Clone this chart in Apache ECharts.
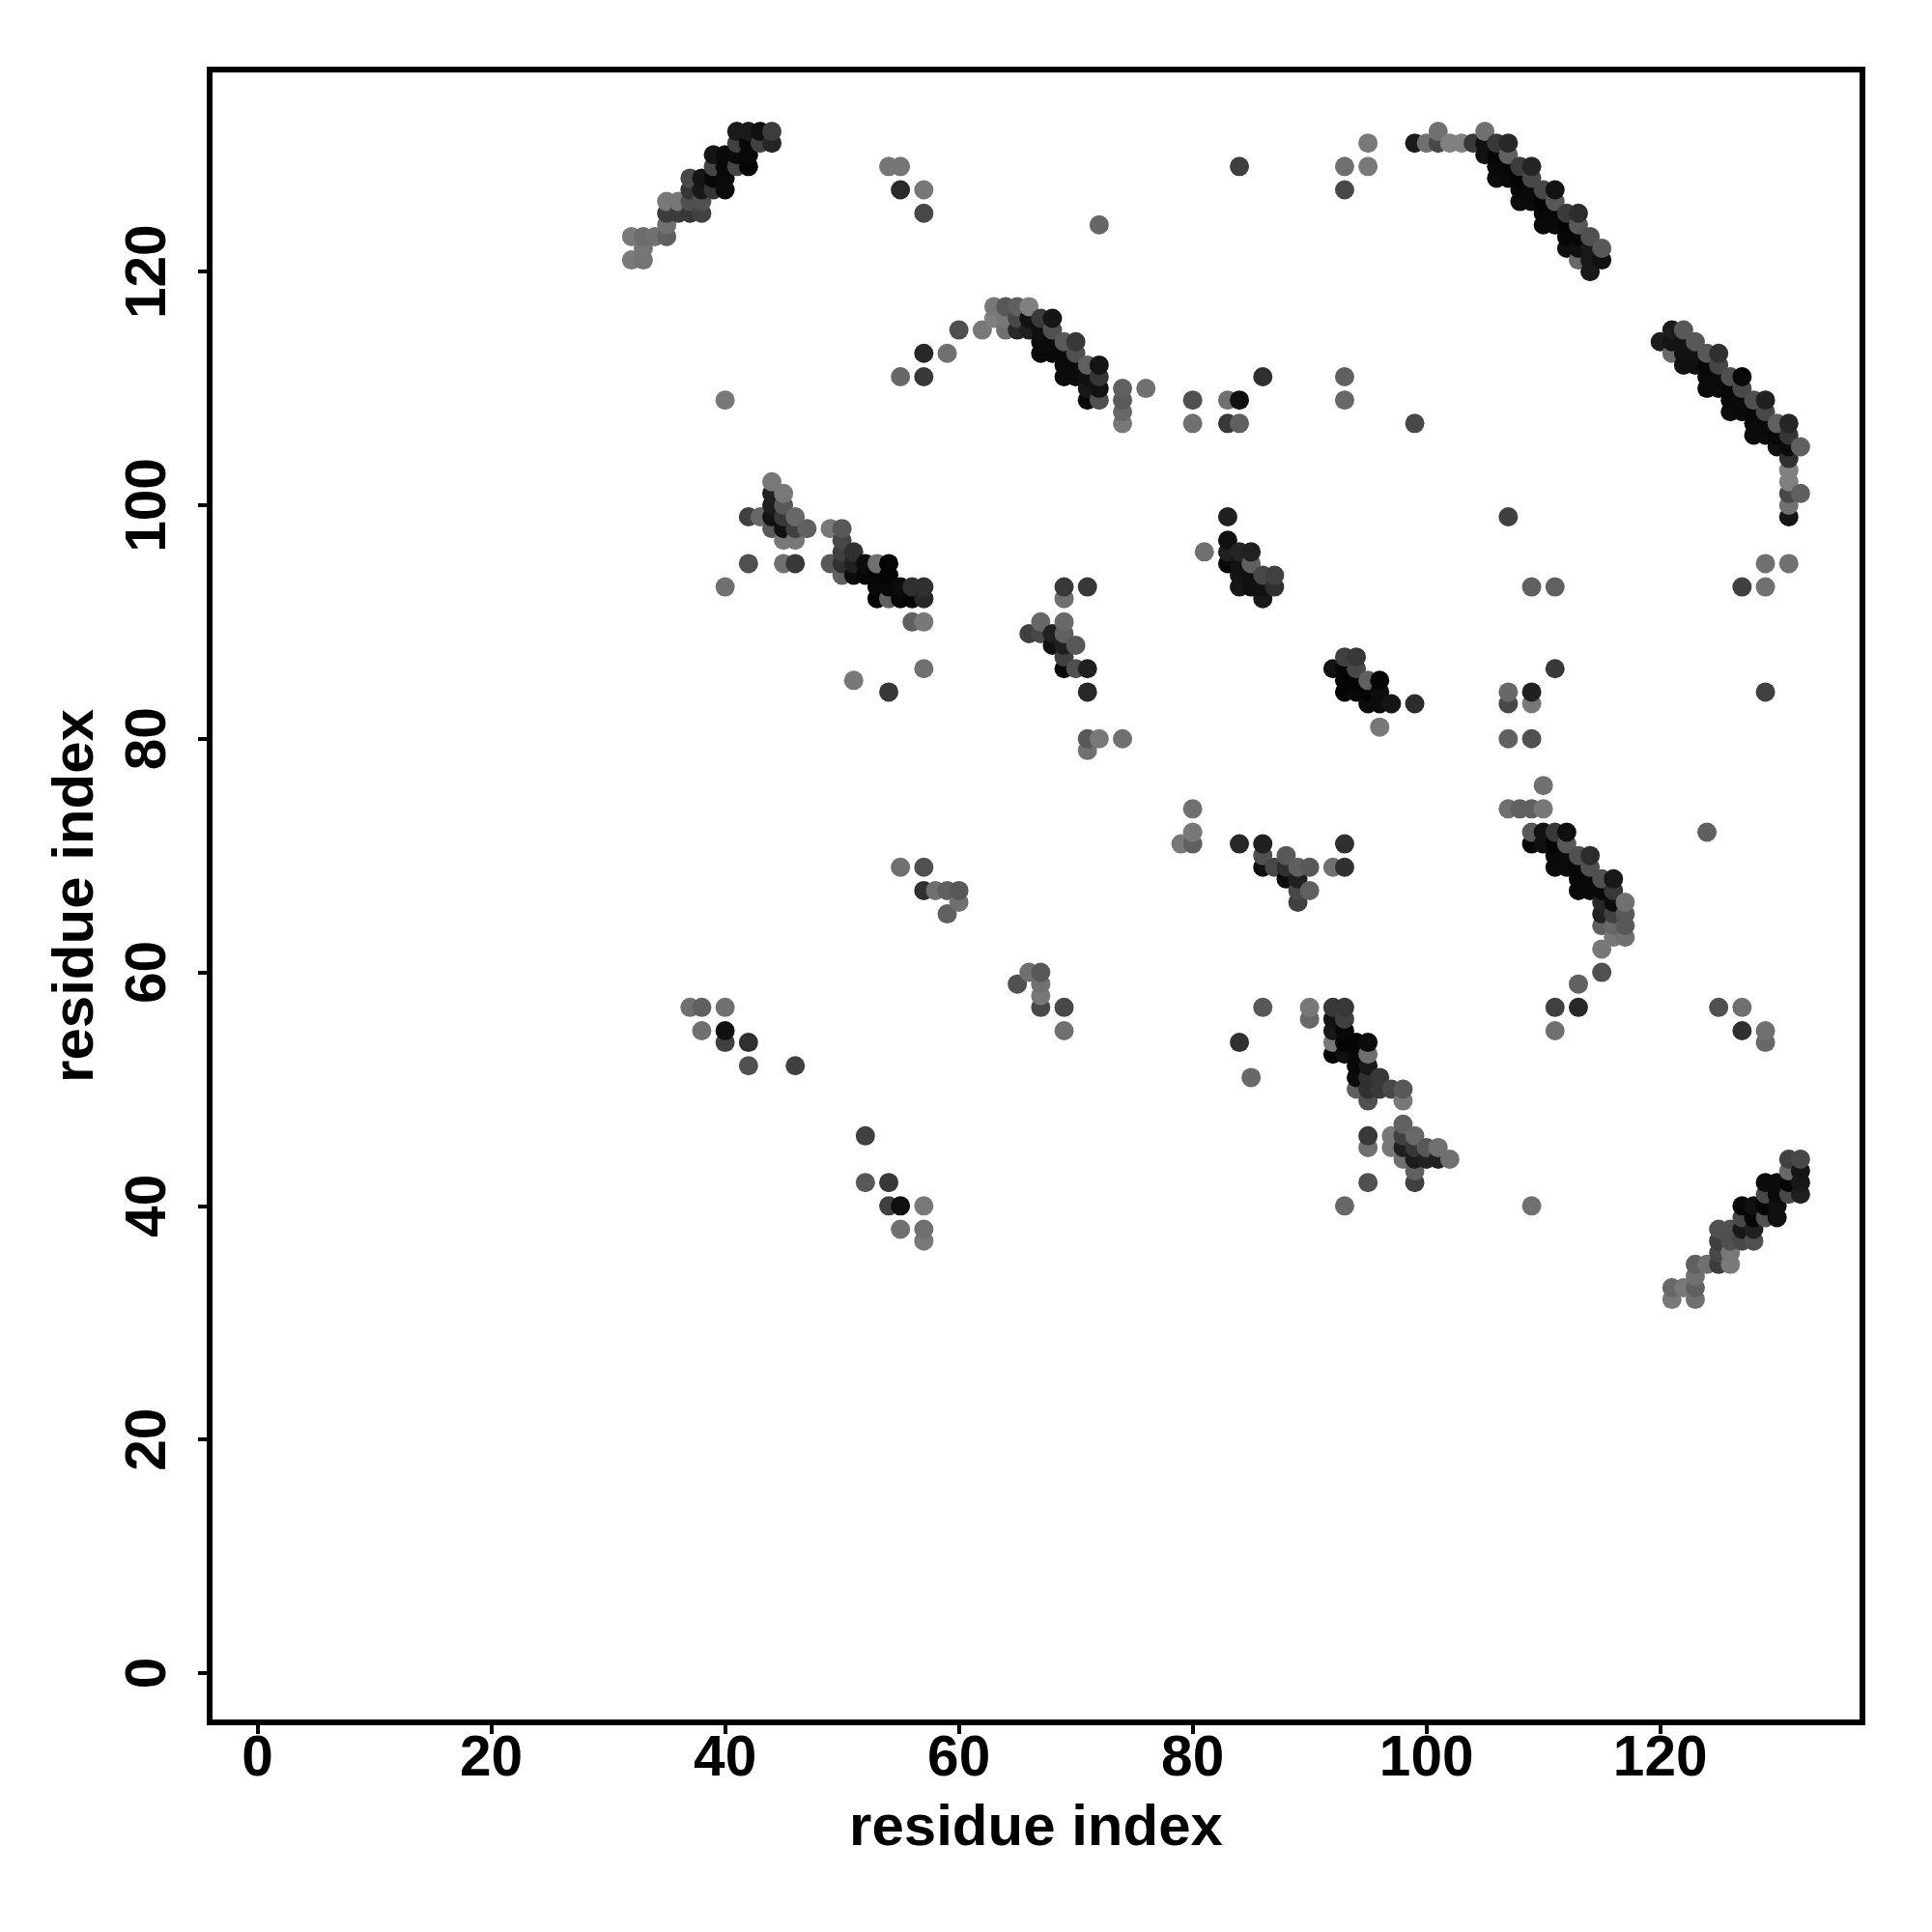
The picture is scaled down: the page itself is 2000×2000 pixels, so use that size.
<!DOCTYPE html>
<html>
<head>
<meta charset="utf-8">
<style>html,body{margin:0;padding:0;background:#fff}#c{width:2000px;height:2000px}</style>
<script src="https://cdn.jsdelivr.net/npm/echarts@6/dist/echarts.min.js"></script>
</head>
<body>
<div id="c"></div>
<script>
// Each contact: [residue x, residue y, grey level 0-255]
const tickValues = [0, 20, 40, 60, 80, 100, 120];
const axisTitle = "residue index";

const helixTopLeft = [
[41,132,0x1a],[42,132,0x1a],[43,132,0x10],[44,132,0x3c],
[41,131,0x40],[42,131,0x08],[43,131,0x40],[44,131,0x25],
[39,130,0x15],[40,130,0x0a],[41,130,0x0a],[42,130,0x08],
[39,129,0x45],[40,129,0x08],[41,129,0x45],[42,129,0x05],
[37,128,0x48],[38,128,0x15],[39,128,0x08],[40,128,0x0a],
[37,127,0x35],[38,127,0x18],[39,127,0x35],[40,127,0x0a],
[35,126,0x78],[36,126,0x78],[37,126,0x50],[38,126,0x50],
[35,125,0x3c],[36,125,0x3c],[37,125,0x38],[38,125,0x42],
[35,124,0x70],
[32,123,0x7a],[33,123,0x6c],[34,123,0x70],[35,123,0x60],
[33,122,0x75],[32,121,0x7a],[33,121,0x74]
];
const scatterTop = [
[54,129,0x75],[55,129,0x75],[55,127,0x2a],[57,127,0x78],[57,125,0x48],
[72,124,0x66],[84,129,0x40],[93,129,0x70],[93,127,0x48],[95,131,0x78],[95,129,0x78]
];
const helixTopRight = [
[101,132,0x70],[105,132,0x70],
[99,131,0x1a],[100,131,0x70],[101,131,0x48],[102,131,0x80],[103,131,0x80],[104,131,0x38],[105,131,0x10],[106,131,0x38],[107,131,0x28],
[105,130,0x12],[106,130,0x05],[107,130,0x60],
[106,129,0x0a],[107,129,0x08],[108,129,0x3c],[109,129,0x25],
[106,128,0x0c],[107,128,0x0a],[108,128,0x05],[109,128,0x48],
[108,127,0x08],[109,127,0x08],[110,127,0x48],[111,127,0x12],
[108,126,0x0c],[109,126,0x0a],[110,126,0x05],[111,126,0x58],
[110,125,0x08],[111,125,0x08],[112,125,0x3a],[113,125,0x2c],
[110,124,0x0a],[111,124,0x0a],[112,124,0x05],[113,124,0x58],
[112,123,0x08],[113,123,0x08],[114,123,0x50],
[112,122,0x10],[113,122,0x10],[114,122,0x18],[115,122,0x58],
[113,121,0x68],[114,121,0x18],[115,121,0x10],[114,120,0x18]
];
const arcUpperMiddle = [
[63,117,0x78],[64,117,0x58],[65,117,0x60],[66,117,0x80],
[63,116,0x80],[64,116,0x78],[65,116,0x48],[66,116,0x12],[67,116,0x3a],[68,116,0x15],
[60,115,0x50],[62,115,0x78],[64,115,0x70],[65,115,0x28],[66,115,0x20],[67,115,0x10],[68,115,0x50],
[67,114,0x0c],[68,114,0x0a],[69,114,0x5a],[70,114,0x38],
[59,113,0x70],[67,113,0x08],[68,113,0x08],[69,113,0x0a],[70,113,0x50],
[69,112,0x0c],[70,112,0x0a],[71,112,0x60],[72,112,0x15],
[69,111,0x0c],[70,111,0x0c],[71,111,0x10],[72,111,0x35],
[71,110,0x18],[72,110,0x12],[74,110,0x60],[76,110,0x70],
[71,109,0x08],[72,109,0x50],[74,109,0x5a],[74,108,0x68],[74,107,0x78]
];
const scatterUpperMiddle = [
[57,113,0x28],[55,111,0x68],[57,111,0x38],[40,109,0x78],
[80,109,0x50],[80,107,0x70],[83,109,0x70],[84,109,0x10],[83,107,0x38],[84,107,0x60],
[86,111,0x30],[93,111,0x60],[93,109,0x68],[99,107,0x48]
];
const helixRight = [
[121,115,0x1c],[122,115,0x58],
[120,114,0x1c],[121,114,0x14],[122,114,0x14],[123,114,0x58],
[121,113,0x68],[122,113,0x12],[123,113,0x12],[124,113,0x58],[125,113,0x30],
[122,112,0x10],[123,112,0x10],[124,112,0x08],[125,112,0x45],
[124,111,0x0a],[125,111,0x0a],[126,111,0x50],[127,111,0x08],
[124,110,0x0c],[125,110,0x0c],[126,110,0x08],[127,110,0x48],
[126,109,0x0a],[127,109,0x0a],[128,109,0x50],[129,109,0x20],
[126,108,0x0c],[127,108,0x0a],[128,108,0x08],[129,108,0x48],
[128,107,0x0a],[129,107,0x0a],[130,107,0x60],[131,107,0x25],
[128,106,0x0c],[129,106,0x0c],[130,106,0x08],[131,106,0x35],
[130,105,0x10],[131,105,0x0c],[132,105,0x60],
[131,104,0x30],[131,103,0x80],[131,102,0x80],[131,101,0x48],[132,101,0x60],[131,100,0x70],[131,99,0x14]
];
const scatterRight = [
[107,99,0x40],[127,93,0x40],[129,95,0x70],[129,93,0x70],[131,95,0x70],
[109,93,0x60],[111,93,0x60],[111,86,0x38],[129,84,0x40],
[107,84,0x68],[107,83,0x48],[109,84,0x20],[109,83,0x78],[107,80,0x60],[109,80,0x50]
];
const bandLeft = [
[44,102,0x78],[44,101,0x20],[45,101,0x78],[44,100,0x1c],[45,100,0x58],
[42,99,0x40],[43,99,0x68],[44,99,0x12],[45,99,0x38],[46,99,0x68],
[44,98,0x58],[45,98,0x10],[46,98,0x40],[47,98,0x60],[49,98,0x78],[50,98,0x58],
[45,97,0x78],[46,97,0x78],[50,97,0x48],[50,96,0x40],[51,96,0x30],
[42,95,0x50],[45,95,0x70],[46,95,0x38],[49,95,0x58],[50,95,0x30],[51,95,0x20],[52,95,0x0c],[53,95,0x70],[54,95,0x05],
[50,94,0x60],[51,94,0x0c],[52,94,0x08],[53,94,0x05],[54,94,0x05],
[53,93,0x08],[54,93,0x08],[55,93,0x0c],[56,93,0x30],[57,93,0x30],
[53,92,0x02],[54,92,0x60],[55,92,0x08],[56,92,0x05],[57,92,0x28],
[56,90,0x60],[57,90,0x78],
[40,93,0x70],[51,85,0x78],[54,84,0x38],[57,86,0x70]
];
const clusterCentre = [
[69,93,0x38],[71,93,0x38],[69,92,0x70],[67,90,0x68],[69,90,0x68],
[66,89,0x40],[67,89,0x48],[68,89,0x20],[69,89,0x60],
[68,88,0x10],[69,88,0x20],[70,88,0x58],[69,87,0x40],
[69,86,0x08],[70,86,0x50],[71,86,0x20],[71,84,0x28],
[71,80,0x58],[72,80,0x78],[74,80,0x70],[71,79,0x70]
];
const clusterDiagonalUpper = [
[83,99,0x20],[83,97,0x10],[83,96,0x20],[83,95,0x08],[81,96,0x70],
[84,96,0x25],[85,96,0x20],[84,95,0x12],[85,95,0x60],
[84,94,0x15],[84,93,0x18],[85,94,0x10],[85,93,0x10],
[86,94,0x48],[86,93,0x12],[86,92,0x18],[87,94,0x40],[87,93,0x30]
];
const clusterDiagonalLower = [
[93,87,0x40],[94,87,0x38],[92,86,0x12],[93,86,0x05],[94,86,0x48],
[93,85,0x05],[94,85,0x05],[95,85,0x60],[96,85,0x05],
[93,84,0x05],[94,84,0x08],[95,84,0x05],[96,84,0x0c],
[95,83,0x0c],[96,83,0x0c],[97,83,0x15],[99,83,0x2c],[96,81,0x78]
];
const helixLowerRight = [
[110,76,0x70],[107,74,0x70],[108,74,0x60],[109,74,0x60],[110,74,0x78],
[109,72,0x58],[110,72,0x12],[111,72,0x38],[112,72,0x10],
[109,71,0x08],[110,71,0x10],[111,71,0x05],[112,71,0x58],
[111,70,0x0a],[112,70,0x0a],[113,70,0x50],[114,70,0x2c],
[111,69,0x0a],[112,69,0x0c],[113,69,0x08],[114,69,0x50],
[113,68,0x08],[114,68,0x08],[115,68,0x50],[116,68,0x18],
[113,67,0x08],[114,67,0x08],[115,67,0x08],[116,67,0x38],
[115,66,0x28],[116,66,0x0c],[117,66,0x70],
[115,65,0x20],[116,65,0x40],[117,65,0x58],
[115,64,0x60],[116,64,0x68],[117,64,0x58],
[116,63,0x78],[117,63,0x70],[115,62,0x78],[115,60,0x50]
];
const arcCentre = [
[80,74,0x70],[80,72,0x78],[79,71,0x78],[80,71,0x60],[84,71,0x28],[86,71,0x20],
[86,70,0x50],[88,70,0x58],
[86,69,0x10],[87,69,0x48],[88,69,0x30],[89,69,0x60],[90,69,0x58],
[88,68,0x0c],[89,68,0x20],[89,67,0x48],[90,67,0x60],[89,66,0x40],
[92,69,0x70],[93,69,0x30],[93,71,0x30],[124,72,0x60]
];
const scatterMiddle = [
[55,69,0x70],[57,69,0x50],[57,67,0x30],[58,67,0x70],[59,67,0x60],[60,67,0x58],[60,66,0x70],[59,65,0x60],
[65,59,0x50],[66,60,0x70],[67,60,0x58],[67,59,0x70],[67,58,0x78],[67,57,0x48],[69,57,0x48],[69,55,0x70],
[37,57,0x70],[38,57,0x60],[38,55,0x70],[40,57,0x70],[40,55,0x10],[40,54,0x40],[42,54,0x30],[42,52,0x50],[46,52,0x40],
[52,46,0x40],[52,42,0x58],[54,42,0x38],[54,40,0x40],[55,40,0x10],[55,38,0x70],[57,40,0x78],[57,38,0x70],[57,37,0x78],
[84,54,0x30],[85,51,0x68],[86,57,0x58]
];
const bandLower = [
[90,57,0x78],[90,56,0x68],
[92,57,0x38],[93,57,0x38],[92,56,0x12],[93,56,0x40],[92,55,0x18],[93,55,0x08],
[92,54,0x78],[93,54,0x05],[94,54,0x05],[95,54,0x0c],
[92,53,0x05],[93,53,0x10],[94,53,0x08],[95,53,0x70],
[94,52,0x08],[95,52,0x18],[94,51,0x0c],[95,51,0x30],[96,51,0x38],
[94,50,0x60],[95,50,0x30],[96,50,0x38],[97,50,0x48],[98,50,0x58],
[95,49,0x50],[98,49,0x78],[98,47,0x60],
[95,46,0x38],[97,46,0x78],[98,46,0x40],[99,46,0x68],
[95,45,0x70],[97,45,0x78],[98,45,0x20],[99,45,0x38],[100,45,0x58],[101,45,0x70],
[98,44,0x70],[99,44,0x1c],[100,44,0x22],[101,44,0x20],[102,44,0x70],
[99,43,0x60],[95,42,0x50],[99,42,0x40],[93,40,0x68],[109,40,0x70]
];
const scatterLowerRight = [
[111,57,0x40],[113,57,0x28],[113,59,0x60],[111,55,0x70],
[125,57,0x50],[127,57,0x70],[127,55,0x30],[129,55,0x70],[129,54,0x68]
];
const helixBottomRight = [
[131,44,0x40],[132,44,0x48],[131,43,0x68],[132,43,0x15],
[129,42,0x0c],[130,42,0x0c],[131,42,0x05],[132,42,0x18],
[129,41,0x48],[130,41,0x0a],[131,41,0x48],[132,41,0x20],
[127,40,0x08],[128,40,0x10],[129,40,0x05],[130,40,0x10],
[127,39,0x48],[128,39,0x05],[129,39,0x50],[130,39,0x10],
[125,38,0x50],[126,38,0x50],[127,38,0x18],[128,38,0x20],
[125,37,0x40],[126,37,0x50],[127,37,0x48],[128,37,0x50],
[125,36,0x48],[126,36,0x78],
[123,35,0x60],[124,35,0x70],[125,35,0x3c],[126,35,0x7a],
[123,34,0x70],[121,33,0x68],[122,33,0x78],[123,33,0x60],[121,32,0x78],[123,32,0x70]
];

// Reference paints contacts ordered by x, then y.
const contacts = [].concat(
  helixTopLeft, scatterTop, helixTopRight, arcUpperMiddle, scatterUpperMiddle,
  helixRight, scatterRight, bandLeft, clusterCentre, clusterDiagonalUpper,
  clusterDiagonalLower, helixLowerRight, arcCentre, scatterMiddle, bandLower,
  scatterLowerRight, helixBottomRight
).sort((a, b) => a[0] - b[0] || a[1] - b[1]);

const FONT = '"Liberation Sans", Arial, sans-serif';
function axis(extra) {
  return Object.assign({
    type: 'value',
    name: axisTitle,
    nameLocation: 'middle',
    nameTextStyle: { fontFamily: FONT, fontWeight: 'bold', fontSize: 60, color: '#000' },
    splitLine: { show: false },
    axisLine: { show: false, onZero: false }
  }, extra);
}
const chart = echarts.init(document.getElementById('c'), null, { renderer: 'canvas' });
chart.setOption({
  animation: false,
  backgroundColor: '#fff',
  grid: { left: 217, top: 72, width: 1711, height: 1711, show: true, borderColor: '#000', borderWidth: 6, backgroundColor: 'transparent' },
  xAxis: axis({
    min: -4.1, max: 137.3, nameGap: 80,
    axisTick: { show: true, length: 12, lineStyle: { color: '#000', width: 4 }, customValues: tickValues },
    axisLabel: { show: true, customValues: tickValues, margin: 9, fontFamily: FONT, fontWeight: 'bold', fontSize: 58.5, color: '#000' }
  }),
  yAxis: axis({
    min: -4.22, max: 137.3, nameGap: 108,
    axisTick: { show: true, length: 12, lineStyle: { color: '#000', width: 4 }, customValues: tickValues },
    axisLabel: { show: true, customValues: tickValues, rotate: 90, margin: 33, fontFamily: FONT, fontWeight: 'bold', fontSize: 58.5, color: '#000' }
  }),
  series: [{
    type: 'scatter',
    symbol: 'circle',
    symbolSize: 20,
    large: false,
    clip: false,
    data: contacts,
    encode: { x: 0, y: 1 },
    itemStyle: {
      opacity: 1,
      color: p => { const g = p.data[2]; return 'rgb(' + g + ',' + g + ',' + g + ')'; }
    }
  }]
});
</script>
</body>
</html>
